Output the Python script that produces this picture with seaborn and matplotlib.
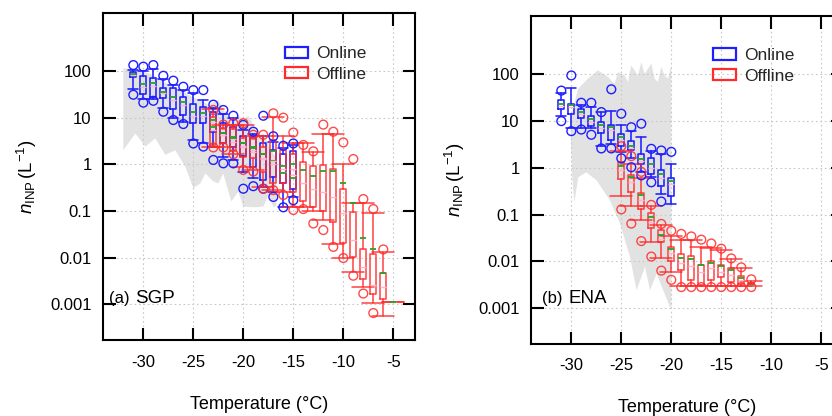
import numpy as np
import pandas as pd
import matplotlib
matplotlib.use("Agg")
import matplotlib.pyplot as plt
import seaborn as sns
from matplotlib.patches import Patch
from matplotlib.ticker import FixedLocator, NullLocator, FixedFormatter

nan = np.nan

# ---------------- (a) SGP : online (blue) ----------------
sgp_on_T = [-31, -30, -29, -28, -27, -26, -25, -24, -23, -22, -21, -20, -19, -18, -17, -16, -15]
sgp_on_hic = [134, 124, 134, 79, 62, 46, 39, 39, 19, 14.6, 11, 7.0, 5.0, 11, 4.0, 2.5, 2.8]
sgp_on_whi = [105, 100, 109, 66, 50, 39, 34, 24, 16, 12, 10, 5.5, 4.5, 4.0, 3.0, 2.2, 2.6]
sgp_on_q3 = [94, 80, 70, 43, 43, 28, 20, 17, 13, 7.6, 6.4, 4.0, 3.9, 2.8, 2.0, 1.7, 1.9]
sgp_on_mean = [88, 52, 55, 36, 28, 22, 13, 12.8, 9, 4.6, 3.9, 2.8, 2.2, 1.7, 1.2, 0.9, 1.0]
sgp_on_med = [84, 45, 48, 33, 24, 19, 11, 11, 8, 4.2, 3.5, 2.5, 1.8, 1.4, 1.0, 0.7, 0.8]
sgp_on_q1 = [76, 32, 28, 27, 15, 11.4, 7.6, 7.6, 5, 2.8, 2.4, 1.5, 0.89, 0.46, 0.54, 0.39, 0.3]
sgp_on_wlo = [41, 25, 25, 16, 9.7, 8.2, 3.3, 2.8, 2.4, 1.46, 1.24, 0.7, 0.5, 0.33, 0.25, 0.12, 0.2]
sgp_on_loc = [31, 21, 23, 13.4, 8.9, 7.3, 2.8, 2.4, 1.24, 1.05, 1.05, 0.3, 0.34, 0.30, 0.2, 0.12, 0.17]

# ---------------- (a) SGP : offline (red) ----------------
sgp_off_T = [-23, -22, -21, -20, -19, -18, -17, -16, -15, -14, -13, -12, -11, -10, -9, -8, -7, -6, -5]
sgp_off_hic = [14.6, 7.1, 7.6, 7.6, 4.3, 4.3, 12.4, 10, 4.8, 2.6, 1.9, 7.1, 5.0, 2.95, 1.3, 0.18, 0.11, 0.015, nan]
sgp_off_whi = [15, 7.1, 7.1, 7.1, 4.1, 4.1, 10.5, 4.1, 2.8, 2.8, 1.8, 4.4, 4.5, 1.0, 0.15, 0.15, 0.089, 0.013, 0.0011]
sgp_off_q3 = [10.5, 6.0, 5.8, 3.6, 3.6, 2.4, 3.3, 2.0, 1.7, 1.1, 0.94, 0.97, 0.8, 0.30, 0.097, 0.0155, 0.012, 0.0046, 0.0011]
sgp_off_mean = [6.4, 4.8, 3.6, 2.8, 2.3, 1.7, 1.9, 0.64, 0.5, 0.76, 0.57, 0.73, 0.72, 0.39, 0.15, 0.026, 0.015, 0.0046, 0.0011]
sgp_off_med = [5.5, 4.2, 3.0, 2.3, 2.0, 1.3, 1.2, 0.8, 0.6, 0.4, 0.3, 0.25, 0.2, 0.09, 0.024, 0.0064, 0.0026, 0.0024, 0.0011]
sgp_off_q1 = [2.6, 2.8, 1.9, 1.46, 1.35, 0.7, 0.39, 0.39, 0.26, 0.16, 0.124, 0.1, 0.057, 0.021, 0.0101, 0.0035, 0.0017, 0.0013, 0.0011]
sgp_off_wlo = [2.3, 2.4, 1.7, 0.89, 0.76, 0.33, 0.28, 0.26, 0.124, 0.124, 0.1, 0.064, 0.02, 0.0098, 0.005, 0.0024, 0.00105, 0.00055, 0.0011]
sgp_off_loc = [2.3, 2.3, 1.65, 0.76, 0.7, 0.3, 0.28, 0.22, 0.105, 0.11, 0.054, 0.039, 0.017, 0.0098, 0.0041, 0.0017, 0.00065, nan, nan]

# ---------------- (b) ENA : online (blue) ----------------
ena_on_T = [-31, -30, -29, -28, -27, -26, -25, -24, -23, -22, -21, -20]
ena_on_hic = [45, 95, 24.7, 24.7, 15.6, 48, 14.4, 7.4, 8.8, 2.55, 2.35, 2.2]
ena_on_whi = [40, 52, 22, 20, 15.6, 16.4, 8.1, 6.0, 4.5, 2.3, 2.0, 1.22]
ena_on_q3 = [28, 23.5, 18.4, 12.8, 9.5, 8.1, 5.4, 3.7, 2.0, 1.64, 0.88, 0.61]
ena_on_mean = [23.5, 22.4, 15.6, 10.9, 8.1, 7.4, 4.5, 3.0, 1.56, 1.2, 0.74, 0.52]
ena_on_med = [21, 20, 14, 9.5, 7.0, 6.5, 4.0, 2.7, 1.4, 1.0, 0.62, 0.45]
ena_on_q1 = [17.8, 14.4, 11.6, 7.8, 5.6, 4.0, 3.0, 2.35, 1.22, 0.74, 0.40, 0.25]
ena_on_wlo = [12.6, 7.1, 7.1, 7.0, 3.0, 3.3, 2.2, 1.6, 0.81, 0.63, 0.28, 0.17]
ena_on_loc = [10, 6.1, 6.6, 5.1, 2.6, 2.6, 1.6, 1.03, 0.69, 0.49, 0.19, nan]

# ---------------- (b) ENA : offline (red) ----------------
ena_off_T = [-25, -24, -23, -22, -21, -20, -19, -18, -17, -16, -15, -14, -13, -12]
ena_off_hic = [2.9, 1.78, 0.82, 0.161, 0.063, 0.045, 0.0385, 0.034, 0.029, 0.024, 0.0186, 0.0115, 0.0074, 0.0041]
ena_off_whi = [2.3, 1.22, 0.6, 0.15, 0.06, 0.035, 0.028, 0.028, 0.02, 0.019, 0.017, 0.011, 0.007, 0.0038]
ena_off_q3 = [1.35, 0.70, 0.29, 0.107, 0.047, 0.020, 0.014, 0.0129, 0.0083, 0.0099, 0.0083, 0.0071, 0.0049, 0.0035]
ena_off_mean = [1.12, 0.63, 0.26, 0.09, 0.036, 0.018, 0.012, 0.011, 0.0082, 0.0092, 0.0078, 0.0064, 0.0044, 0.0033]
ena_off_med = [0.9, 0.5, 0.2, 0.07, 0.03, 0.015, 0.009, 0.008, 0.006, 0.007, 0.006, 0.005, 0.004, 0.0032]
ena_off_q1 = [0.59, 0.31, 0.129, 0.051, 0.026, 0.010, 0.0065, 0.004, 0.0031, 0.004, 0.0045, 0.0036, 0.0033, 0.0031]
ena_off_wlo = [0.255, 0.151, 0.076, 0.0255, 0.012, 0.006, 0.0029, 0.0029, 0.0029, 0.0029, 0.0029, 0.0029, 0.0029, 0.0029]
ena_off_loc = [0.129, 0.064, 0.027, 0.0126, 0.0063, 0.004, 0.0028, 0.0028, 0.0028, 0.0028, 0.0028, 0.0028, 0.0028, 0.0028]

# ---------------- grey envelopes ----------------
sgp_env_up_T = [-32, -31, -30, -29, -28, -27, -26, -25, -24, -23.5, -23, -22.5, -22, -21.5, -21, -20.5, -20, -19.5, -19, -18.5, -18, -17.5, -17, -16.7]
sgp_env_up_n = [114, 109, 97, 82, 59, 46, 36, 27, 22, 18.7, 21, 24, 14.6, 10.5, 8.9, 11.4, 8.9, 10.9, 7.0, 3.9, 4.6, 2.8, 1.7, 1.35]
sgp_env_lo_T = [-32, -30.8, -29.8, -28.8, -27.8, -26.8, -25.8, -25, -24.3, -23.8, -23, -22.5, -22, -21.2, -20.5, -20, -19, -18, -17.5, -17, -16.7]
sgp_env_lo_n = [2.0, 4.6, 2.4, 3.6, 1.6, 2.0, 0.89, 0.31, 0.39, 0.64, 0.43, 0.39, 0.64, 0.16, 0.26, 0.124, 0.12, 0.124, 0.22, 0.124, 0.124]

ena_env_up_T = [-30.1, -29.83, -29.33, -28.33, -27.33, -26.33, -25.67, -25.33, -24.67, -24.33, -24.0, -23.33, -23.0, -22.67, -22.0, -21.67, -21.33, -21.0, -20.67, -20.33, -20.0]
ena_env_up_n = [10, 18, 49, 81, 122, 88, 63, 112, 95, 69, 155, 95, 182, 102, 170, 81, 69, 144, 95, 81, 155]
ena_env_lo_T = [-30.1, -29.9, -29.7, -29.3, -28.5, -27.47, -26.13, -25.13, -24.13, -23.47, -22.63, -22.13, -21.47, -20.13, -20.0]
ena_env_lo_n = [10, 0.63, 0.18, 0.63, 0.8, 0.54, 0.2, 0.064, 0.0124, 0.0024, 0.0076, 0.0024, 0.0054, 0.00105, 0.00102]

# tick labels
y_ticks = [0.001, 0.01, 0.1, 1, 10, 100]
y_ticklabels = ["0.001", "0.01", "0.1", "1", "10", "100"]
x_ticks = [-30, -25, -20, -15, -10, -5]
x_ticklabels = ["-30", "-25", "-20", "-15", "-10", "-5"]

BLUE = "#1e1eff"
RED = "#ff2a2a"
GREEN = "#2aa02a"
PINK = "#ffb4d2"
GREY = "#e2e2e2"

sns.set_theme(style="white")
plt.rcParams["font.family"] = ["Liberation Sans", "DejaVu Sans"]
plt.rcParams["mathtext.fontset"] = "custom"
plt.rcParams["mathtext.rm"] = "Liberation Sans"
plt.rcParams["mathtext.it"] = "Liberation Sans:italic"

fig = plt.figure(figsize=(8.32, 4.16), dpi=100)
axL = fig.add_axes([0.1242, 0.1827, 0.3746, 0.7868])
axR = fig.add_axes([0.6386, 0.1738, 0.3746, 0.7877])


def draw_boxes(ax, T, hic, whi, q3, mean, med, q1, wlo, loc, color, capw, alpha):
    stats = []
    for b, c, d, e, f, g in zip(whi, q3, mean, med, q1, wlo):
        stats.append(dict(whishi=b, q3=c, mean=d, med=e, q1=f, whislo=g, fliers=[]))
    lp = dict(color=color, lw=1.15, alpha=alpha)
    ax.bxp(stats, positions=T, widths=0.62, capwidths=capw, showmeans=True,
           meanline=True, showfliers=False, boxprops=lp, whiskerprops=lp,
           capprops=lp, medianprops=dict(color=PINK, lw=1.0),
           meanprops=dict(color=GREEN, lw=1.3, ls="-"), manage_ticks=False,
           zorder=3)
    df = pd.DataFrame({"T": list(T) + list(T), "n": list(hic) + list(loc)}).dropna()
    sns.scatterplot(data=df, x="T", y="n", ax=ax, marker="o", s=40,
                    facecolors="none", edgecolor=color, linewidth=1.0,
                    alpha=alpha, zorder=4, legend=False)


panels = [
    (axL, "(a)", "SGP",
     (sgp_env_up_T, sgp_env_up_n, sgp_env_lo_T, sgp_env_lo_n),
     (sgp_on_T, sgp_on_hic, sgp_on_whi, sgp_on_q3, sgp_on_mean, sgp_on_med, sgp_on_q1, sgp_on_wlo, sgp_on_loc),
     (sgp_off_T, sgp_off_hic, sgp_off_whi, sgp_off_q3, sgp_off_mean, sgp_off_med, sgp_off_q1, sgp_off_wlo, sgp_off_loc),
     0.897, (0.019, 0.102), 0.128),
    (axR, "(b)", "ENA",
     (ena_env_up_T, ena_env_up_n, ena_env_lo_T, ena_env_lo_n),
     (ena_on_T, ena_on_hic, ena_on_whi, ena_on_q3, ena_on_mean, ena_on_med, ena_on_q1, ena_on_wlo, ena_on_loc),
     (ena_off_T, ena_off_hic, ena_off_whi, ena_off_q3, ena_off_mean, ena_off_med, ena_off_q1, ena_off_wlo, ena_off_loc),
     0.902, (0.035, 0.118), 0.137),
]

for ax, tag, site, env, on, off, legy, tagx, tagy in panels:
    ax.set_yscale("log")
    ax.set_xlim(-34, -2.83)
    ax.set_ylim(10 ** -3.765, 10 ** 3.25)
    uT, un, lT, ln = env
    ax.fill(list(uT) + list(lT)[::-1], list(un) + list(ln)[::-1],
            color=GREY, lw=0, zorder=0.3)
    draw_boxes(ax, *on, color=BLUE, capw=1.0, alpha=1.0)
    draw_boxes(ax, *off, color=RED, capw=2.2, alpha=0.85)

    ax.set_axisbelow(False)
    ax.grid(True, which="major", color="#c8c8c8", lw=0.8, ls=(0, (1.5, 2.5)), zorder=0.5)
    for gl in ax.get_xgridlines() + ax.get_ygridlines():
        gl.set_zorder(0.5)
    ax.yaxis.set_major_locator(FixedLocator(y_ticks))
    ax.yaxis.set_major_formatter(FixedFormatter(y_ticklabels))
    ax.yaxis.set_minor_locator(NullLocator())
    ax.xaxis.set_major_locator(FixedLocator(x_ticks))
    ax.xaxis.set_major_formatter(FixedFormatter(x_ticklabels))
    ax.tick_params(axis="both", which="major", direction="in", length=9, width=1.5,
                   top=True, right=True, bottom=True, left=True,
                   labelsize=12, colors="black", labelcolor="black")
    ax.tick_params(axis="x", pad=10.5)
    ax.tick_params(axis="y", pad=8.5)
    for sp in ax.spines.values():
        sp.set_visible(True)
        sp.set_color("black")
        sp.set_linewidth(1.5)

    ax.set_xlabel("Temperature (°C)", fontsize=13, color="black")
    ax.xaxis.set_label_coords(0.5, -0.17)
    ax.set_ylabel(r"$n_{\mathrm{INP}}\,(\mathrm{L}^{-1})$", fontsize=13.5, color="black")
    ax.yaxis.set_label_coords(-0.205, 0.5)

    handles = [Patch(facecolor="none", edgecolor=BLUE, lw=1.6, label="Online"),
               Patch(facecolor="none", edgecolor=RED, lw=1.6, label="Offline")]
    ax.legend(handles=handles, loc="upper left", bbox_to_anchor=(0.583, legy),
              frameon=False, fontsize=12.5, handlelength=1.3, handleheight=0.6,
              handletextpad=0.5, labelspacing=0.32, borderpad=0, borderaxespad=0)

    ax.text(tagx[0], tagy, tag, transform=ax.transAxes, fontsize=12,
            va="center", ha="left", color="black")
    ax.text(tagx[1], tagy, site, transform=ax.transAxes, fontsize=13.5,
            va="center", ha="left", color="black")

fig.savefig("out.png", dpi=100)
